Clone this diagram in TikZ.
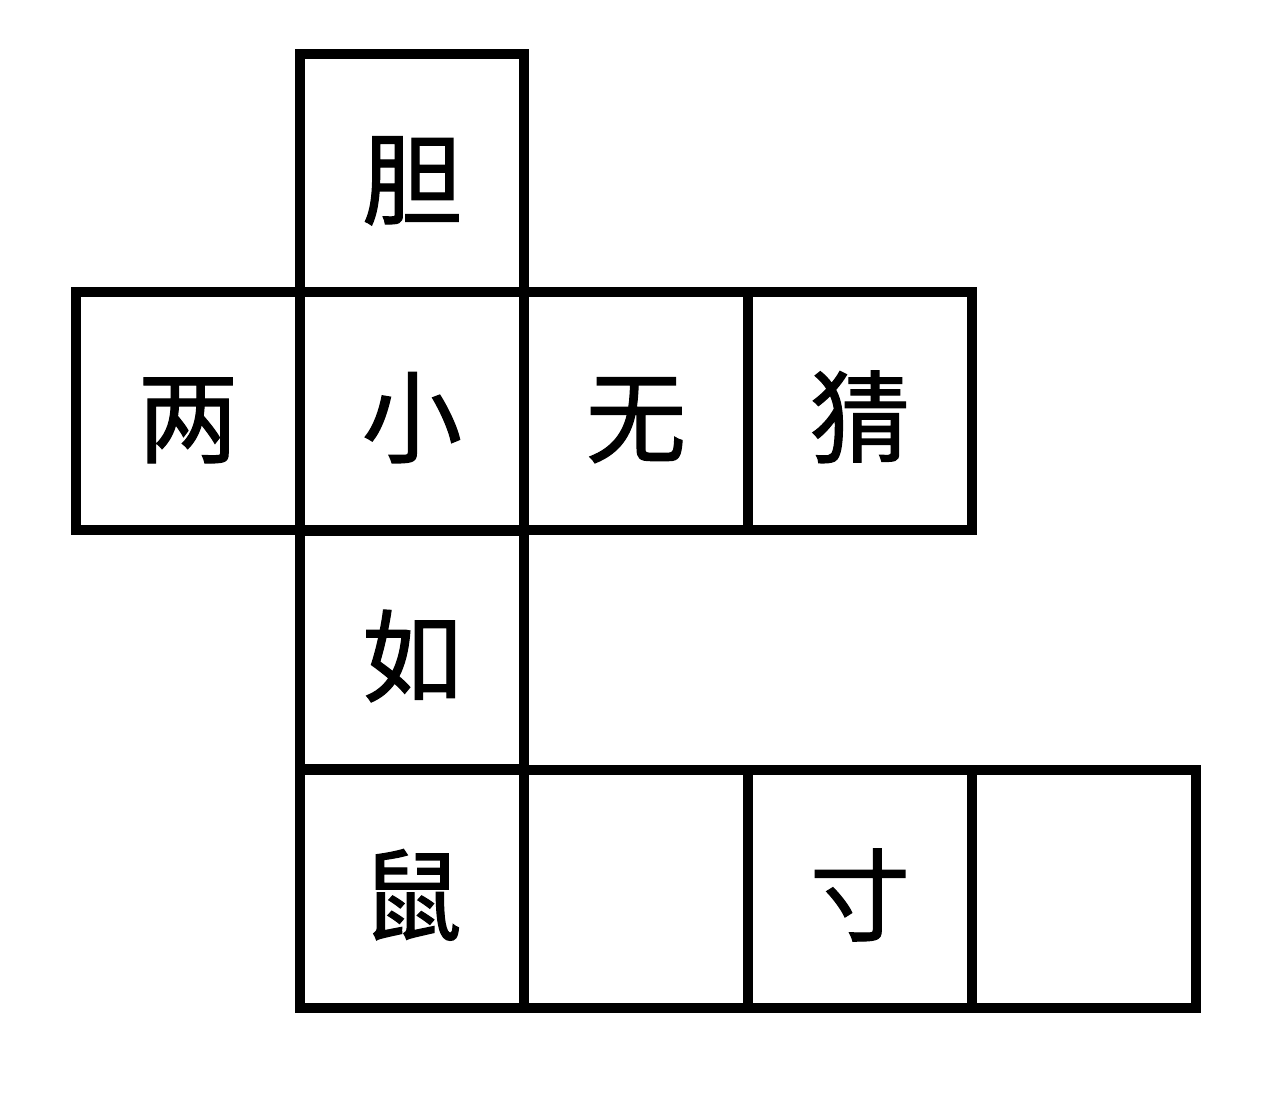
\documentclass[tikz,border=0pt]{standalone}
\usepackage{fontspec}
\newfontfamily\cjk[FakeBold=1.2]{Noto Sans CJK SC}
\usetikzlibrary{positioning}

\begin{document}
\begin{tikzpicture}[node distance=4.48cm,
  cell/.style={draw,line width=2.1mm,minimum width=4.48cm,minimum height=4.76cm,inner sep=0pt,
    text height=53pt,text depth=3pt,font=\cjk\fontsize{57}{57}\selectfont}]
 \useasboundingbox[fill=white] (0,0) rectangle (25.6,-21.88);

 \node[cell,name=dan ] at (8.24,-3.46)          {胆};
 \node[cell,below of=dan, yshift=-0.28cm, name=xiao] {小};
 \node[cell,left of=xiao,  name=liang]          {两};
 \node[cell,right of=xiao, name=wu   ]          {无};
 \node[cell,right of=wu,   name=cai  ]          {猜};
 \node[cell,below of=xiao, yshift=-0.30cm, name=ru ] {如};
 \node[cell,below of=ru,   yshift=-0.30cm, name=shu] {鼠};
 \node[cell,right of=shu,  name=blank1]         {};
 \node[cell,right of=blank1, name=cun ]         {寸};
 \node[cell,right of=cun,  name=blank2]         {};

\end{tikzpicture}
\end{document}
